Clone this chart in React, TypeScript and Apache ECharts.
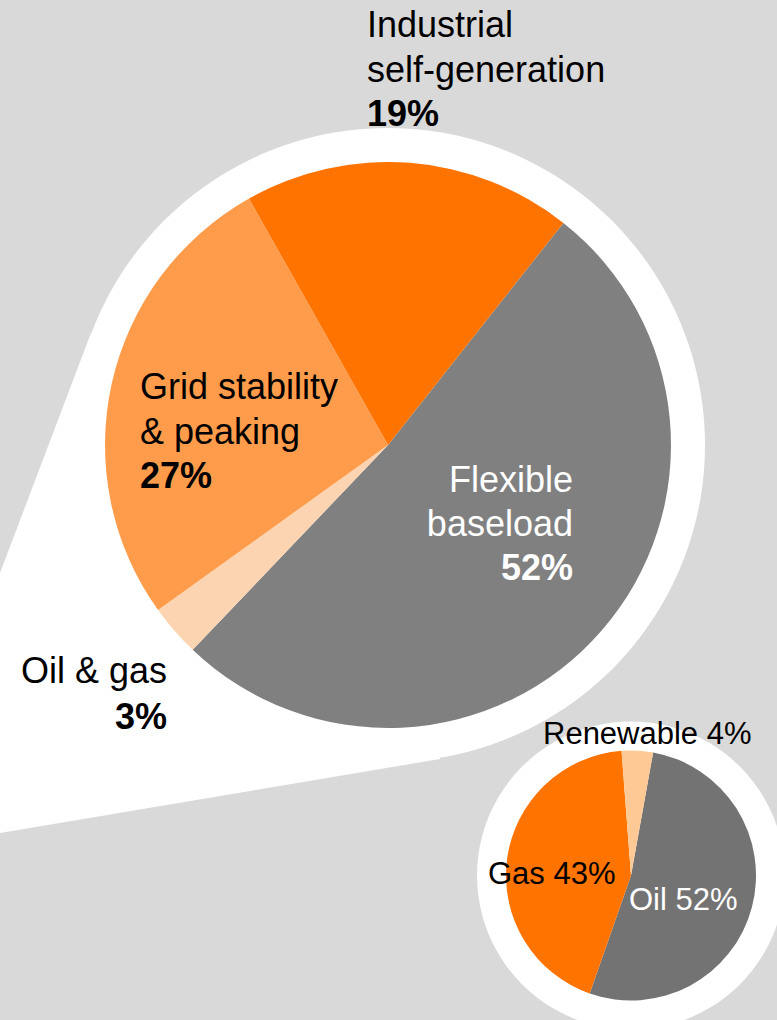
import React, { useEffect, useRef } from "react";
import * as echarts from "echarts";

// Main pie (power generation use cases)
const mainNames = ["Flexible\nbaseload", "Oil & gas", "Grid stability\n& peaking", "Industrial\nself-generation"];
const mainValues = [52, 3, 27, 19];
const mainColors = ["#808080", "#fdd4b1", "#fe9c4b", "#ff7300"];

// Small pie (fuel)
const subNames = ["Oil", "Gas", "Renewable"];
const subValues = [52, 43, 4];
const subColors = ["#737373", "#ff7300", "#ffc995"];

const FONT = "'Liberation Sans', Arial, Helvetica, sans-serif";

type LabelSpec = {
  idx: number;
  x: number;
  baseline: number;
  align: "left" | "right";
  color: string;
  lh: number;
};

const MAIN_FS = 36;
const SUB_FS = 31;

function mainLabel(s: LabelSpec): any[] {
  const lines = mainNames[s.idx].split("\n");
  const all = [...lines.map((t) => ({ t, bold: false })), { t: `${mainValues[s.idx]}%`, bold: true }];
  return all.map((l, i) => ({
    type: "text",
    z: 100,
    x: s.x,
    y: s.baseline + i * s.lh - MAIN_FS * 0.3465,
    style: {
      text: l.t,
      fill: s.color,
      font: `${l.bold ? "bold " : ""}${MAIN_FS}px ${FONT}`,
      align: s.align,
      verticalAlign: "middle",
    },
  }));
}

function subLabel(idx: number, x: number, baseline: number, color: string): any {
  return {
    type: "text",
    z: 100,
    x,
    y: baseline - SUB_FS * 0.3465,
    style: {
      text: `${subNames[idx]} ${subValues[idx]}%`,
      fill: color,
      font: `${SUB_FS}px ${FONT}`,
      align: "left",
      verticalAlign: "middle",
    },
  };
}

export default function App() {
  const ref = useRef<HTMLDivElement>(null);
  useEffect(() => {
    if (!ref.current) return;
    const chart = echarts.init(ref.current, undefined, { renderer: "svg" });
    const graphics: any[] = [
      { type: "circle", z: 0, shape: { cx: 388, cy: 445, r: 317 }, style: { fill: "#ffffff" } },
      {
        type: "polygon",
        z: 0,
        shape: { points: [[0, 573], [91, 333], [388, 445], [440, 759], [0, 833]] },
        style: { fill: "#ffffff" },
      },
      { type: "circle", z: 0, shape: { cx: 631, cy: 875.5, r: 154 }, style: { fill: "#ffffff" } },
      ...mainLabel({ idx: 3, x: 367, baseline: 37, align: "left", color: "#000", lh: 44.5 }),
      ...mainLabel({ idx: 2, x: 140, baseline: 399, align: "left", color: "#000", lh: 44.5 }),
      ...mainLabel({ idx: 0, x: 573, baseline: 492, align: "right", color: "#fff", lh: 44 }),
      ...mainLabel({ idx: 1, x: 167, baseline: 683, align: "right", color: "#000", lh: 46 }),
      subLabel(2, 543, 744, "#000"),
      subLabel(1, 488, 884, "#000"),
      subLabel(0, 629, 910, "#fff"),
    ];
    chart.setOption({
      animation: false,
      backgroundColor: "#d9d9d9",
      graphic: { elements: graphics },
      series: [
        {
          type: "pie",
          z: 5,
          center: [388, 445],
          radius: 283,
          startAngle: 51.7,
          clockwise: true,
          label: { show: false },
          labelLine: { show: false },
          emphasis: { disabled: true },
          itemStyle: { borderWidth: 0 },
          data: mainValues.map((v, i) => ({
            value: v,
            name: mainNames[i],
            itemStyle: { color: mainColors[i] },
          })),
        },
        {
          type: "pie",
          z: 5,
          center: [631, 875.5],
          radius: 125,
          startAngle: 79.8,
          clockwise: true,
          label: { show: false },
          labelLine: { show: false },
          emphasis: { disabled: true },
          itemStyle: { borderWidth: 0 },
          data: subValues.map((v, i) => ({
            value: v,
            name: subNames[i],
            itemStyle: { color: subColors[i] },
          })),
        },
      ],
    });
    return () => chart.dispose();
  }, []);
  return (
    <div
      ref={ref}
      style={{ position: "absolute", left: 0, top: 0, width: 777, height: 1020 }}
    />
  );
}
